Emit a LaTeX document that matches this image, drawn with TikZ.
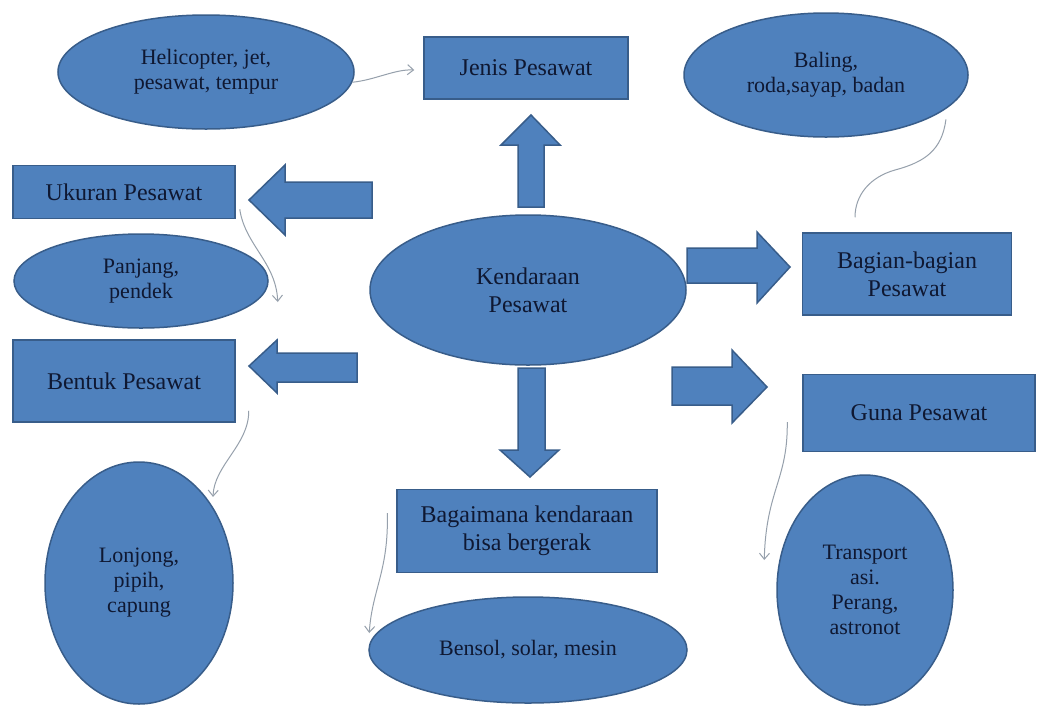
\documentclass[tikz,border=0pt]{standalone}
\usepackage{fontspec}
\setmainfont{Liberation Serif}
\newfontfamily\tnr{Liberation Serif}
\usetikzlibrary{shapes.geometric,arrows.meta}
\definecolor{boxfill}{RGB}{79,129,189}
\definecolor{boxline}{RGB}{56,93,138}
\definecolor{txt}{RGB}{15,24,50}
\definecolor{conncol}{RGB}{150,160,172}
\tikzset{
  rbox/.style={draw=boxline, line width=1.5pt, fill=boxfill, text=txt, align=center,
    inner sep=0pt, font=\tnr\fontsize{24}{28}\selectfont},
  ebox/.style={ellipse, draw=boxline, line width=1.5pt, fill=boxfill, text=txt, align=center,
    inner sep=0pt, font=\tnr\fontsize{22}{25}\selectfont},
  barrow/.style={draw=boxline, line width=1.5pt, fill=boxfill, line join=miter},
  conn/.style={draw=conncol, line width=1pt, -{Straight Barb[length=6pt,width=10pt]}},
  plainconn/.style={draw=conncol, line width=1pt}
}
\begin{document}
\begin{tikzpicture}[x=1pt,y=1pt]
\useasboundingbox (0,0) rectangle (1038,-705);
\fill[white] (0,0) rectangle (1038,-705);

% block arrows
\draw[barrow] (518,-207) -- (518,-145) -- (501,-145) -- (531,-115) -- (560,-145) -- (544,-145) -- (544,-207) -- cycle;
\draw[barrow] (518,-368) -- (545,-368) -- (545,-450) -- (559,-450) -- (530,-477) -- (500,-450) -- (518,-450) -- cycle;
\draw[barrow] (372,-182) -- (285,-182) -- (285,-165) -- (249,-200) -- (285,-235) -- (285,-218) -- (372,-218) -- cycle;
\draw[barrow] (357,-353) -- (277,-353) -- (277,-340) -- (249,-366) -- (277,-393) -- (277,-382) -- (357,-382) -- cycle;
\draw[barrow] (687,-248) -- (757,-248) -- (757,-232) -- (790,-267) -- (757,-303) -- (757,-283) -- (687,-283) -- cycle;
\draw[barrow] (672,-367) -- (732,-367) -- (732,-350) -- (767,-387) -- (732,-423) -- (732,-405) -- (672,-405) -- cycle;

% rectangles
\node[rbox, minimum width=204pt, minimum height=62pt] (jenis) at (526,-68) {Jenis Pesawat};
\node[rbox, minimum width=222pt, minimum height=53pt] (ukuran) at (124,-192) {Ukuran Pesawat};
\node[rbox, minimum width=222pt, minimum height=82pt] (bentuk) at (124,-381) {Bentuk Pesawat};
\node[rbox, minimum width=209pt, minimum height=82pt] (bagian) at (907,-274) {Bagian-bagian\\Pesawat};
\node[rbox, minimum width=232pt, minimum height=77pt] (guna) at (919,-413) {Guna Pesawat};
\node[rbox, minimum width=260pt, minimum height=83pt] (bagaimana) at (527,-531) {Bagaimana kendaraan\\bisa bergerak};

% ellipses
\node[ebox, minimum width=296pt, minimum height=114pt] (heli) at (206,-72) {Helicopter, jet,\\pesawat, tempur};
\node[ebox, minimum width=284pt, minimum height=124pt] (baling) at (826,-75) {Baling,\\roda,sayap, badan};
\node[ebox, minimum width=254pt, minimum height=94pt] (panjang) at (141,-281) {Panjang,\\pendek};
\node[ebox, minimum width=316pt, minimum height=150pt, font=\tnr\fontsize{24}{28}\selectfont] (kendaraan) at (528,-290) {Kendaraan\\Pesawat};
\node[ebox, minimum width=188pt, minimum height=242pt] (lonjong) at (139,-583) {Lonjong,\\pipih,\\capung};
\node[ebox, minimum width=318pt, minimum height=106pt] (bensol) at (528,-650) {Bensol, solar, mesin};
\node[ebox, minimum width=176pt, minimum height=230pt] (transport) at (865,-590) {Transport\\asi.\\Perang,\\astronot};

% thin connectors
\draw[conn] (heli.-4) .. controls (375,-80) and (395,-69) .. ([xshift=-9pt,yshift=-2pt]jenis.west);
\draw[conn] ([xshift=4pt,yshift=10pt]ukuran.south east) .. controls (245,-245) and (276,-262) .. ([xshift=9pt,yshift=-21pt]panjang.east);
\draw[conn] ([xshift=13pt,yshift=12pt]bentuk.south east) .. controls (249,-445) and (214,-465) .. ([xshift=7pt]lonjong.north east);
\draw[conn] ([xshift=-9pt,yshift=18pt]bagaimana.west) .. controls (389,-570) and (372,-590) .. ([xshift=1pt,yshift=17pt]bensol.west);
\draw[conn] ([xshift=-15pt,yshift=-9pt]guna.west) .. controls (788,-480) and (766,-490) .. ([xshift=-12pt,yshift=30pt]transport.west);
\draw[plainconn] ([xshift=19pt]baling.south east) .. controls (942,-150) and (925,-162) .. (895,-170) .. controls (870,-177) and (855,-195) .. ([xshift=-52pt,yshift=15pt]bagian.north);
\end{tikzpicture}
\end{document}
